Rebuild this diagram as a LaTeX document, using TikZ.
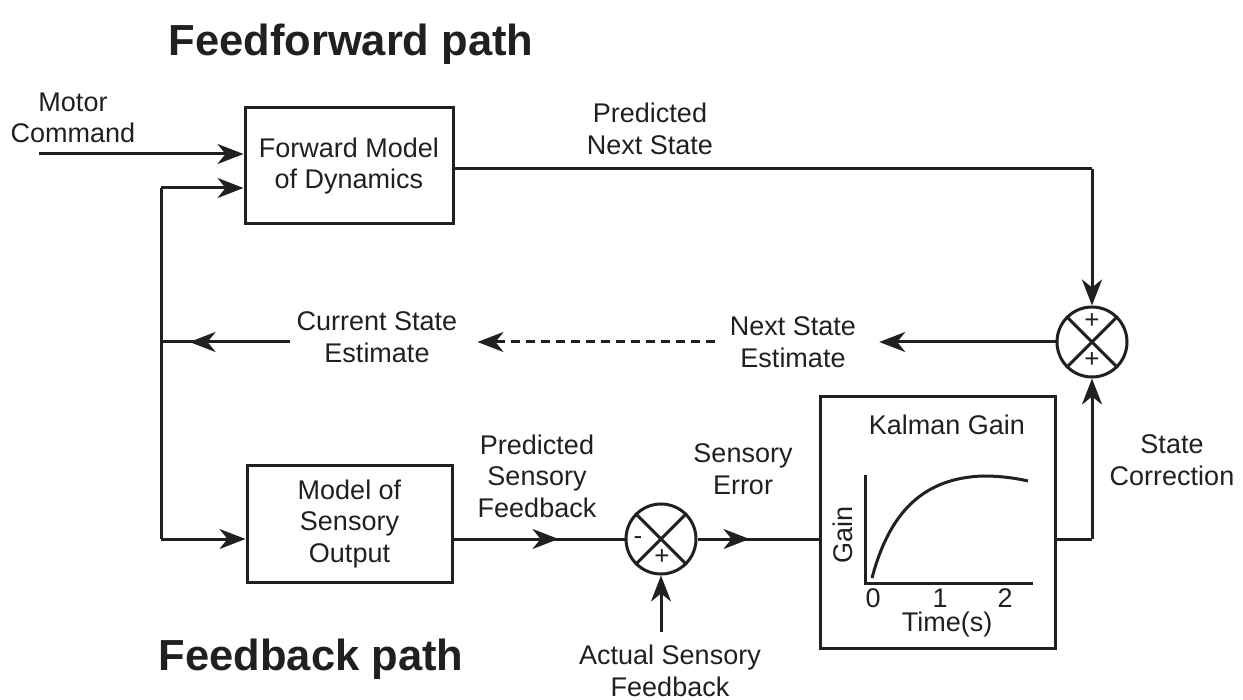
\documentclass[tikz,border=0pt]{standalone}
\usepackage{fontspec}
\setmainfont{Liberation Sans}
\usetikzlibrary{arrows.meta,decorations.markings}
\definecolor{ink}{RGB}{35,31,32}
\begin{document}
\begin{tikzpicture}[x=1pt,y=-1pt,
  txtnode/.style={font=\fontsize{27}{31.5}\selectfont, text=ink, align=center, inner sep=0pt},
  headnode/.style={font=\bfseries\fontsize{43.5}{50}\selectfont, text=ink, inner sep=0pt, anchor=base},
  blk/.style={draw=ink, line width=3pt, rectangle, inner sep=0pt, font=\fontsize{27}{31.5}\selectfont, text=ink, align=center},
  sumnode/.style={draw=ink, line width=3pt, circle, minimum size=70pt, inner sep=0pt},
  wire/.style={draw=ink, line width=3pt},
  arr/.style={wire, -{Stealth[length=26pt,width=20pt,inset=8pt]}},
  midarr/.style={wire, postaction={decorate}, decoration={markings, mark=at position #1 with {\arrow{Stealth[length=26pt,width=20pt,inset=8pt]}}}},
  signnode/.style={font=\fontsize{26}{30}\selectfont, text=ink, inner sep=0pt}
]
\useasboundingbox (0,0) rectangle (1243,700);

% headings
\node[headnode] (hff) at (351,56) {Feedforward path};
\node[headnode] (hfb) at (311,670) {Feedback path};

% blocks
\node[blk, minimum width=208pt, minimum height=116pt] (ff) at (349,166) {Forward Model\\of Dynamics};
\node[blk, minimum width=205pt, minimum height=116pt] (ms) at (349.5,524) {Model of\\Sensory\\Output};
\node[blk, minimum width=235pt, minimum height=251pt] (kg) at (937.5,522.5) {};
\node[sumnode] (s1) at (1092,342) {};
\node[sumnode] (s2) at (661,539) {};

% crosses in summing junctions
\draw[wire] (s1.north east) -- (s1.south west);
\draw[wire] (s1.north west) -- (s1.south east);
\draw[wire] (s2.north east) -- (s2.south west);
\draw[wire] (s2.north west) -- (s2.south east);
\node[signnode] (s1p1) at (1092,321) {+};
\node[signnode] (s1p2) at (1092,360) {+};
\node[signnode] (s2m) at (638,541) {-};
\node[signnode] (s2p) at (662,557) {+};

% labels
\node[txtnode] (mc) at (73,118) {Motor\\Command};
\node[txtnode] (pns) at (650,129) {Predicted\\Next State};
\node[txtnode] (cse) at (377,337) {Current State\\Estimate};
\node[txtnode] (nse) at (793,342) {Next State\\Estimate};
\node[txtnode] (psf) at (537,476) {Predicted\\Sensory\\Feedback};
\node[txtnode] (se) at (743,469) {Sensory\\Error};
\node[txtnode] (sc) at (1172,460) {State\\Correction};
\node[txtnode] (asf) at (670,671) {Actual Sensory\\Feedback};
\node[txtnode] (kgl) at (947,425) {Kalman Gain};

% coordinates
\coordinate (mcs) at (39,154);
\coordinate (fbtop) at (161,188);
\coordinate (pn) at (1092,169);
\coordinate (scc) at (1092,539);
\coordinate (asfs) at (661,632);

% feedforward
\draw[arr] (mcs) -- (ff.west |- mcs);
\draw[wire] (ff.east |- pn) -- (pn);
\draw[arr] (pn) -- (s1.north);

% state estimate loop
\draw[arr] (s1.west) -- ([xshift=23pt]nse.east |- s1.west);
\draw[ink, line width=3pt, dash pattern=on 9pt off 6pt, -{Stealth[length=26pt,width=20pt,inset=8pt]}] ([xshift=-15pt]nse.west |- s1.west) -- ([xshift=20pt]cse.east |- s1.west);
\draw[midarr=100pt] ([xshift=-7pt]cse.west |- s1.west) -- (fbtop |- s1.west);

% left vertical loop
\draw[wire] (fbtop |- s2) -- (fbtop);
\draw[arr] (fbtop) -- (ff.west |- fbtop);
\draw[arr] (fbtop |- s2) -- (ms.west |- s2);

% feedback path
\draw[midarr=105pt] (ms.east |- s2) -- (s2.west);
\draw[midarr=52pt] (s2.east) -- (kg.west |- s2);
\draw[arr] (asfs) -- (s2.south);
\draw[wire] (kg.east |- scc) -- (scc);
\draw[arr] (scc) -- (s1.south);

% Kalman gain plot
\coordinate (ax0) at (865,583);
\draw[wire] (865,475) -- (ax0) -- (1033,583);
\draw[ink, line width=3pt] (872,578) .. controls (890,510) and (925,478) .. (983,476) .. controls (1000,476) and (1015,478) .. (1028,481);
\node[txtnode] (t0) at (873,598) {0};
\node[txtnode] (t1) at (940,598) {1};
\node[txtnode] (t2) at (1005,598) {2};
\node[txtnode] (tl) at (947,625) {Time(s)};
\node[txtnode, rotate=90] (gl) at (843,535) {Gain};
\end{tikzpicture}
\end{document}
